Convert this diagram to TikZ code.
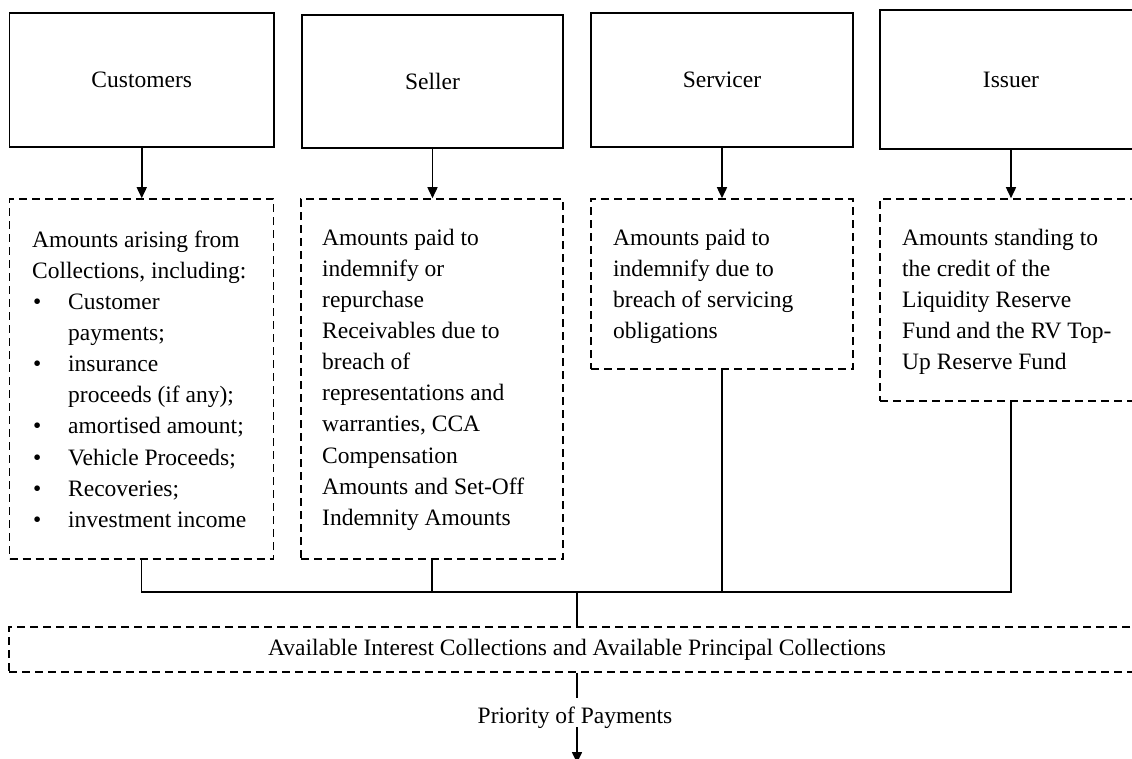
\documentclass[tikz,border=0pt]{standalone}
\usepackage{fontspec}
\setmainfont{Liberation Serif}
\usetikzlibrary{arrows.meta}
\newcommand\dfont{\fontsize{23.5}{31.15}\selectfont}
\newcommand\bul{\makebox[36pt][l]{\hspace{1pt}\textbullet}}
\newcommand\ind{\hspace*{36pt}}
\tikzset{
  solidbox/.style={draw, line width=1.6pt, inner sep=0pt, font=\dfont},
  dashbox/.style={draw, line width=1.6pt, dash pattern=on 8pt off 5pt, inner sep=0pt, font=\dfont},
  txt/.style={inner sep=0pt, anchor=base west, font=\dfont},
  conn/.style={line width=1.6pt},
  arr/.style={conn, -{Triangle[length=11pt,width=10pt]}},
}
\begin{document}
\begin{tikzpicture}[x=1pt,y=-1pt]
\useasboundingbox (0,0) rectangle (1132,758);
\clip (0,0) rectangle (1132,758);
% top boxes
\node[solidbox, minimum width=264.5pt, minimum height=134pt] (cust) at (141.75,80) {Customers};
\node[solidbox, minimum width=261pt, minimum height=133pt] (sell) at (432.5,81.5) {Seller};
\node[solidbox, minimum width=262pt, minimum height=134pt] (serv) at (722,80) {Servicer};
\node[solidbox, minimum width=262pt, minimum height=139pt] (iss) at (1011,79.5) {Issuer};
% dashed boxes
\node[dashbox, minimum width=264pt, minimum height=360pt] (custd) at (141.5,379) {};
\node[dashbox, minimum width=262pt, minimum height=360pt] (selld) at (432,379) {};
\node[dashbox, minimum width=262pt, minimum height=170pt] (servd) at (722,284) {};
\node[dashbox, minimum width=262pt, minimum height=202pt] (issd) at (1011,300) {};
% texts
\node[txt] (custt) at (32,247) {\parbox[t]{240pt}{\raggedright
Amounts arising from\\
Collections, including:\\
\bul Customer\\
\ind payments;\\
\bul insurance\\
\ind proceeds (if any);\\
\bul amortised amount;\\
\bul Vehicle Proceeds;\\
\bul Recoveries;\\
\bul investment income}};
\node[txt] (sellt) at (322,245) {\parbox[t]{240pt}{\raggedright
Amounts paid to\\
indemnify or\\
repurchase\\
Receivables due to\\
breach of\\
representations and\\
warranties, CCA\\
Compensation\\
Amounts and Set-Off\\
Indemnity Amounts}};
\node[txt] (servt) at (613,245) {\parbox[t]{240pt}{\raggedright
Amounts paid to\\
indemnify due to\\
breach of servicing\\
obligations}};
\node[txt] (isst) at (902,245) {\parbox[t]{240pt}{\raggedright
Amounts standing to\\
the credit of the\\
Liquidity Reserve\\
Fund and the RV Top-\\
Up Reserve Fund}};
% bottom boxes
\node[dashbox, minimum width=1136pt, minimum height=45pt] (avail) at (577,649.5) {Available Interest Collections and Available Principal Collections};
\node[inner sep=0pt, anchor=base, font=\dfont, text height=25pt, text depth=4pt] (prio) at (575,723) {Priority of Payments};
\coordinate (j) at (577,592);
\coordinate (end) at (577,763);
% arrows
\draw[arr] (cust.south) -- (cust.south |- custd.north);
\draw[arr] (sell.south) -- (sell.south |- selld.north);
\draw[arr] (serv.south) -- (serv.south |- servd.north);
\draw[arr] (iss.south) -- (iss.south |- issd.north);
% join
\draw[conn] (custd.south) |- (j);
\draw[conn] (selld.south) |- (j);
\draw[conn] (servd.south) |- (j);
\draw[conn] (issd.south) |- (j);
\draw[conn] (j) -- (j |- avail.north);
\draw[conn] (avail.south -| j) -- (j |- prio.north);
\draw[arr] (j |- prio.south) -- (end);
\end{tikzpicture}
\end{document}
